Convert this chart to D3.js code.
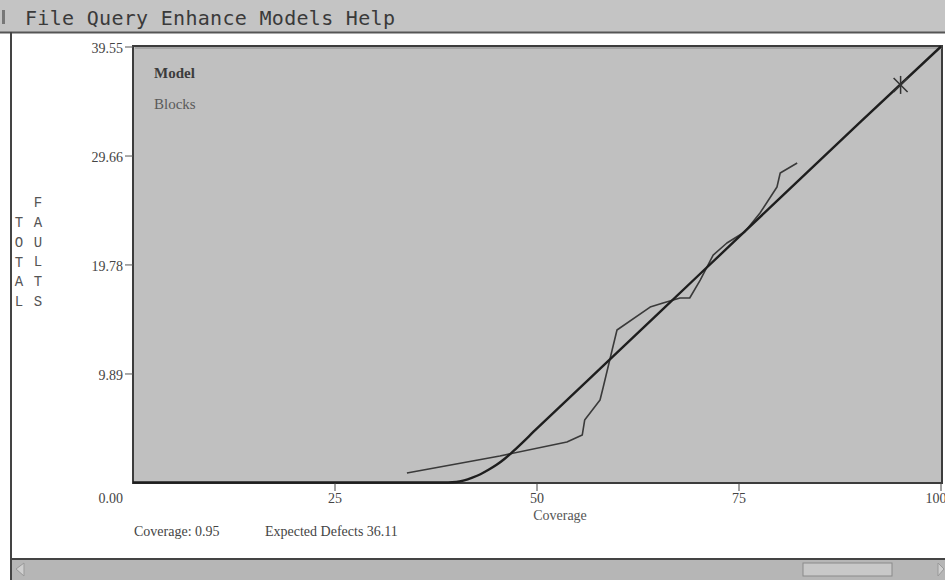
<!DOCTYPE html>
<html>
<head>
<meta charset="utf-8">
<script src="https://cdn.jsdelivr.net/npm/d3@7"></script>
<style>
  html, body { margin: 0; padding: 0; background: #ffffff; }
  svg { display: block; }
</style>
</head>
<body>
<svg id="chart" width="945" height="580"></svg>
<script>
// ---- data ----
const menuItems = ["File", "Query", "Enhance", "Models", "Help"];
const yTicks = [0, 9.89, 19.78, 29.66, 39.55];
const xTicks = [25, 50, 75, 100];
const modelCoverage = [0, 38, 40, 41, 42, 43, 44, 45, 46, 47, 50, 60, 70, 80, 90, 100];
const modelDefects  = [0, 0, 0.05, 0.2, 0.45, 0.75, 1.15, 1.6, 2.15, 2.8, 4.9, 11.85, 18.8, 25.75, 32.7, 39.55];
const blocksCoverage = [33.9, 45.4, 53.7, 55.6, 55.9, 57.8, 58.2, 59.3, 59.9, 64.0, 65.6, 67.7, 68.9, 70.2, 71.8, 73.5, 75.7, 77.6, 79.7, 80.1, 82.2];
const blocksDefects  = [0.91, 2.45, 3.72, 4.35, 5.71, 7.53, 8.71, 12.06, 13.88, 15.96, 16.33, 16.78, 16.78, 18.41, 20.68, 21.77, 22.77, 24.49, 26.85, 28.12, 29.03];
const markCoverage = [95];
const markDefects = [36.11];
const legendLabels = ["Model", "Blocks"];
const yTitleCols = ["TOTAL", "FAULTS"];
const xTitle = "Coverage";
const footerTexts = ["Coverage: 0.95", "Expected Defects 36.11"];

// ---- layout ----
const svg = d3.select("#chart");
const W = 945, H = 580;
const plot = { left: 133, right: 942, top: 46, bottom: 483 };
const x = d3.scaleLinear().domain([0, 100]).range([133, 941]);
const y = d3.scaleLinear().domain([0, 39.55]).range([483, 47]);
const serif = "'Liberation Serif', 'Times New Roman', serif";

// window chrome
svg.append("rect").attr("x", 0).attr("y", 0).attr("width", W).attr("height", H).attr("fill", "#ffffff");
svg.append("rect").attr("x", 0).attr("y", 0).attr("width", W).attr("height", 32).attr("fill", "#c4c4c4");
svg.append("line").attr("x1", 0).attr("x2", W).attr("y1", 32.5).attr("y2", 32.5).attr("stroke", "#555").attr("stroke-width", 2);
svg.append("line").attr("x1", 11).attr("x2", 11).attr("y1", 32).attr("y2", 580).attr("stroke", "#444").attr("stroke-width", 2);
svg.append("rect").attr("x", 2).attr("y", 10).attr("width", 3).attr("height", 14).attr("fill", "#777");

// menu
svg.append("text").attr("x", 25).attr("y", 25)
  .attr("font-family", "'DejaVu Sans Mono', monospace").attr("font-size", 20).attr("fill", "#3a3a3a")
  .attr("letter-spacing", 0.3)
  .attr("xml:space", "preserve")
  .text(menuItems.join(" "));

// scrollbar
svg.append("line").attr("x1", 11).attr("x2", W).attr("y1", 559).attr("y2", 559).attr("stroke", "#444").attr("stroke-width", 2);
svg.append("rect").attr("x", 12).attr("y", 560).attr("width", W - 12).attr("height", 20).attr("fill", "#b6b6b6");
svg.append("path").attr("d", "M16,569 L24,563 L24,576 Z").attr("fill", "#cfcfcf").attr("stroke", "#999");
svg.append("rect").attr("x", 803).attr("y", 563).attr("width", 89).attr("height", 13).attr("fill", "#c8c8c8").attr("stroke", "#8a8a8a");
svg.append("path").attr("d", "M938,563 L944,569 L938,576 Z").attr("fill", "#cfcfcf").attr("stroke", "#999");

// plot background
svg.append("rect").attr("x", plot.left).attr("y", plot.top)
  .attr("width", plot.right - plot.left).attr("height", plot.bottom - plot.top)
  .attr("fill", "#c0c0c0");

svg.append("clipPath").attr("id", "pc").append("rect")
  .attr("x", plot.left).attr("y", plot.top - 2).attr("width", plot.right - plot.left + 1).attr("height", plot.bottom - plot.top + 4);

// lines
const line = d3.line().x(d => x(d[0])).y(d => y(d[1]));
const modelData = modelCoverage.map((c, i) => [c, modelDefects[i]]);
const blocksData = blocksCoverage.map((c, i) => [c, blocksDefects[i]]);

const g = svg.append("g").attr("clip-path", "url(#pc)");
g.append("path").datum(blocksData).attr("d", line).attr("fill", "none")
  .attr("stroke", "#3a3a3a").attr("stroke-width", 1.6).attr("stroke-linejoin", "round");

// frame
svg.append("rect").attr("x", plot.left).attr("y", plot.top)
  .attr("width", plot.right - plot.left).attr("height", plot.bottom - plot.top)
  .attr("fill", "none").attr("stroke", "#3c3c3c").attr("stroke-width", 2);
svg.append("line").attr("x1", plot.left + 2).attr("x2", plot.right).attr("y1", plot.top + 2).attr("y2", plot.top + 2).attr("stroke", "#8a8a8a").attr("stroke-width", 1);

// model line drawn over frame (flat part overlaps bottom edge)
svg.append("path").datum(modelData).attr("d", d3.line().curve(d3.curveMonotoneX).x(d => x(d[0])).y(d => y(d[1]) - 0.5))
  .attr("fill", "none").attr("stroke", "#1e1e1e").attr("stroke-width", 2.4);

// marker
markCoverage.forEach((c, i) => {
  const cx = x(c), cy = y(markDefects[i]), r = 7;
  const m = svg.append("g").attr("stroke", "#333").attr("stroke-width", 1.5);
  m.append("line").attr("x1", cx - r).attr("x2", cx + r).attr("y1", cy - r).attr("y2", cy + r);
  m.append("line").attr("x1", cx - r).attr("x2", cx + r).attr("y1", cy + r).attr("y2", cy - r);
  m.append("line").attr("x1", cx).attr("x2", cx).attr("y1", cy - r - 2).attr("y2", cy + r + 2);
});

// y axis
yTicks.forEach(v => {
  if (v !== 0) {
    svg.append("line").attr("x1", 125).attr("x2", plot.left).attr("y1", y(v)).attr("y2", y(v))
      .attr("stroke", "#555").attr("stroke-width", 1);
  }
  svg.append("text").attr("x", 123).attr("y", v === 0 ? 503 : y(v) + 6)
    .attr("text-anchor", "end").attr("font-family", serif).attr("font-size", 14)
    .attr("fill", "#444").text(v.toFixed(2));
});

// x axis
xTicks.forEach(v => {
  svg.append("line").attr("x1", x(v)).attr("x2", x(v)).attr("y1", plot.bottom).attr("y2", plot.bottom + 8)
    .attr("stroke", "#444").attr("stroke-width", 1);
  svg.append("text").attr("x", x(v) - (v === 100 ? 5 : 0)).attr("y", 503)
    .attr("text-anchor", "middle").attr("font-family", serif).attr("font-size", 14)
    .attr("fill", "#444").text(v);
});
svg.append("text").attr("x", 560).attr("y", 520).attr("text-anchor", "middle")
  .attr("font-family", serif).attr("font-size", 14).attr("fill", "#555").text(xTitle);

// y title (vertical letters)
yTitleCols.forEach((word, ci) => {
  const colX = [19, 38][ci];
  const startY = ci === 0 ? 227 : 207;
  word.split("").forEach((ch, k) => {
    svg.append("text").attr("x", colX).attr("y", startY + k * 19.8)
      .attr("text-anchor", "middle").attr("font-family", "'Liberation Mono', 'Courier New', monospace")
      .attr("font-size", 14).attr("fill", "#555").text(ch);
  });
});

// legend labels
legendLabels.forEach((t, i) => {
  svg.append("text").attr("x", 154).attr("y", 78 + i * 31)
    .attr("font-family", serif).attr("font-size", 15).attr("font-weight", i === 0 ? "bold" : "normal")
    .attr("fill", i === 0 ? "#3c3c3c" : "#5a5a5a").text(t);
});

// footer
svg.append("text").attr("x", 134).attr("y", 536).attr("font-family", serif).attr("font-size", 14)
  .attr("fill", "#444").text(footerTexts[0]);
svg.append("text").attr("x", 265).attr("y", 536).attr("font-family", serif).attr("font-size", 14)
  .attr("fill", "#444").text(footerTexts[1]);
</script>
</body>
</html>
